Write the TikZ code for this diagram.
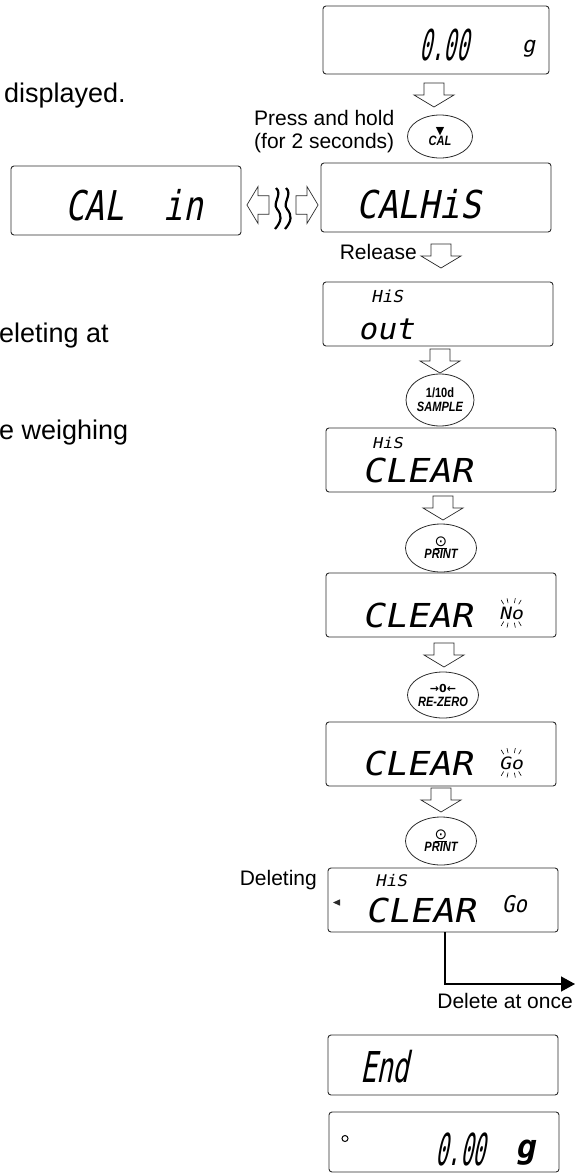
\documentclass[tikz,border=0pt]{standalone}
\usepackage{fontspec}
\setmainfont{Liberation Sans}
\newfontfamily\lcdfont[FakeSlant=0.2]{DejaVu Sans Mono}
\newfontfamily\keyfont[FakeStretch=0.82]{Liberation Sans}
\newfontfamily\symfont{DejaVu Sans}
\usetikzlibrary{arrows.meta,positioning,shapes.geometric}
\definecolor{linedark}{HTML}{2B2B2B}

\newcommand{\lcd}[2]{\lcdfont\fontsize{#1}{#1}\selectfont\addfontfeature{FakeStretch=#2}}
\newcommand{\hollowarrow}[1][]{\draw[hollow,#1] (0,-10) -- (12,-10) -- (12,-20) -- (24,0) -- (12,20) -- (12,10) -- (0,10) -- cycle;}

\begin{document}
\begin{tikzpicture}[
  x=1pt, y=1pt,
  display/.style={
    draw=linedark,
    line width=0.9pt,
    rounded corners=3pt,
    minimum width=230pt,
    minimum height=64pt,
    inner sep=0pt,
    outer sep=0pt
  },
  keybtn/.style={
    ellipse,
    draw=linedark,
    line width=0.8pt,
    minimum width=71pt,
    minimum height=48pt,
    inner sep=0pt,
    outer sep=0pt,
    align=center,
    font=\keyfont\bfseries\itshape\fontsize{13.5}{15}\selectfont
  },
  hollow/.style={draw=linedark, line width=0.7pt, fill=white},
  remark/.style={font=\fontsize{21}{23}\selectfont, inner sep=0pt},
  bodytext/.style={font=\fontsize{27}{30}\selectfont, inner sep=0pt},
  lcdtext/.style={inner sep=0pt, anchor=base west},
  arrow/.style={-{Triangle[length=14pt,width=15pt]}, line width=1.4pt}
]
\useasboundingbox (0,0) rectangle (587,-1175);

\node[bodytext, anchor=base west] (txtdisplayed) at (4,-102) {displayed.};
\node[bodytext, anchor=base west] (txtdeleting) at (-1,-342) {eleting at};
\node[bodytext, anchor=base west] (txtweighing) at (-1,-439) {e weighing};

\node[display, minimum width=226pt, minimum height=68pt] (disp0) at (436,-40) {};
\node[lcdtext, font=\lcd{42.5}{0.48}] (disp0num) at ([xshift=96,yshift=-20]disp0.west) {0.00};
\node[lcdtext, font=\lcd{22}{1}] (disp0unit) at ([xshift=199,yshift=-12]disp0.west) {g};

\node[keybtn, below=41pt of disp0, xshift=4pt, minimum width=65pt, minimum height=43pt] (keycal)
  {{\symfont\upshape\fontsize{11}{11}\selectfont ▼}\\[-4pt]CAL};
\node[remark, align=left, anchor=east] (presshold) at ([xshift=-13,yshift=4.5]keycal.west)
  {Press and hold\\(for 2 seconds)};

\node[display, minimum height=69pt, below=5pt of keycal, xshift=-4pt] (calhis) {};
\node[lcdtext, font=\lcd{38.4}{0.9}] (calhistxt) at ([xshift=35,yshift=-20.5]calhis.west) {CALHiS};

\node[display, minimum height=69pt, left=80pt of calhis, yshift=-3pt] (calin) {};
\node[lcdtext, font=\lcd{41}{0.8}] (calintxt) at ([xshift=54,yshift=-19.5]calin.west) {CAL~~in};

\hollowarrow[shift={(calin.east)}, xshift=28, yshift=-4.5, rotate=180, scale=0.92]
\hollowarrow[shift={(calin.east)}, xshift=55, yshift=-4.5, scale=0.92]
\foreach \wx in {36,46}
  \draw[line width=2.2pt] ([xshift=\wx-1, yshift=12.5]calin.east)
    .. controls +(7,-6) and +(-5,6) .. ([xshift=\wx, yshift=-8.5]calin.east)
    .. controls +(5,-6) and +(7,8) .. ([xshift=\wx-2, yshift=-28.5]calin.east);

\node[remark, anchor=base east] (release) at ([xshift=-19,yshift=-27]calhis.south) {Release};

\node[display, below=50pt of calhis, xshift=2pt] (dispout) {};
\node[lcdtext, font=\lcd{16.5}{1.07}] (outhis) at ([xshift=48,yshift=12]dispout.west) {HiS};
\node[lcdtext, font=\lcd{29.4}{1.05}] (outtxt) at ([xshift=35,yshift=-25]dispout.west) {out};

\node[keybtn, below=28pt of dispout, xshift=2pt, minimum width=68pt, minimum height=52pt] (keysample)
  {\upshape 1/10d\\[-1pt]SAMPLE};

\node[display, below=2pt of keysample, xshift=1pt] (dispclear) {};
\node[lcdtext, font=\lcd{15}{1.13}] (clearhis) at ([xshift=46,yshift=12]dispclear.west) {HiS};
\node[lcdtext, font=\lcd{33}{1.11}] (cleartxt) at ([xshift=36,yshift=-22]dispclear.west) {CLEAR};

\node[keybtn, below=32pt of dispclear] (keyprint)
  {\underline{\symfont\upshape\mdseries\fontsize{15}{15}\selectfont ⊙}\\[-3pt]PRINT};

\node[display, below=1pt of keyprint] (dispno) {};
\node[lcdtext, font=\lcd{33}{1.11}] (notxt) at ([xshift=36,yshift=-22]dispno.west) {CLEAR};
\node[lcdtext, font=\lcd{17}{1.17}] (noflash) at ([xshift=173,yshift=-14]dispno.west) {No};
\foreach \a in {60,78,102,120,240,258,282,300}
  \draw[line width=0.6pt] (noflash.center) ++(\a:15pt and 10pt) -- ++(\a:5pt);

\node[keybtn, below=35pt of dispno, xshift=2pt, minimum height=46pt] (keyzero)
  {{\symfont\upshape\fontsize{11}{11}\selectfont →0←}\\[-1pt]RE-ZERO};

\node[display, below=4pt of keyzero, xshift=-2pt] (dispgo) {};
\node[lcdtext, font=\lcd{33}{1.11}] (gotxt) at ([xshift=36,yshift=-21]dispgo.west) {CLEAR};
\node[lcdtext, font=\lcd{17}{1.17}] (goflash) at ([xshift=173,yshift=-15]dispgo.west) {Go};
\foreach \a in {60,78,102,120,240,258,282,300}
  \draw[line width=0.6pt] (goflash.center) ++(\a:15pt and 10pt) -- ++(\a:5pt);

\node[keybtn, below=31pt of dispgo] (keyprintb)
  {\underline{\symfont\upshape\mdseries\fontsize{15}{15}\selectfont ⊙}\\[-3pt]PRINT};

\node[display, below=3pt of keyprintb, xshift=2pt] (dispdel) {};
\fill[linedark] ([xshift=5,yshift=-2.5]dispdel.west) -- ++(7,3.2) -- ++(0,-6.4) -- cycle;
\node[lcdtext, font=\lcd{16}{1.1}] (delhis) at ([xshift=47,yshift=14]dispdel.west) {HiS};
\node[lcdtext, font=\lcd{33}{1.11}] (deltxt) at ([xshift=37,yshift=-22]dispdel.west) {CLEAR};
\node[lcdtext, font=\lcd{23}{0.9}] (delgo) at ([xshift=174,yshift=-12]dispdel.west) {Go};
\node[remark, anchor=base east] (deleting) at ([xshift=-11,yshift=-17]dispdel.north west) {Deleting};

\coordinate (delend) at ([xshift=132,yshift=-52]dispdel.south);
\node[remark, anchor=base east] (delonce) at ([xshift=-2,yshift=-24]delend) {Delete at once};

\node[display, minimum height=60pt, below=103pt of dispdel] (dispend) {};
\node[lcdtext, font=\lcd{42.5}{0.64}] (endtxt) at ([xshift=32,yshift=-17]dispend.west) {End};

\node[display, minimum height=60pt, below=17pt of dispend, xshift=1pt] (dispzero) {};
\draw[line width=1pt] ([xshift=16,yshift=3.5]dispzero.west) circle (3);
\node[lcdtext, font=\lcd{44}{0.47}] (zeronum) at ([xshift=106,yshift=-23]dispzero.west) {0.00};
\node[lcdtext, font=\lcd{33}{1}\bfseries] (zerounit) at ([xshift=186,yshift=-16]dispzero.west) {g};

\hollowarrow[shift={(disp0.south)}, xshift=-2, yshift=-9, rotate=-90]
\hollowarrow[shift={(calhis.south)}, xshift=5, yshift=-12, rotate=-90]
\hollowarrow[shift={(dispout.south)}, xshift=2, yshift=-3, rotate=-90]
\hollowarrow[shift={(dispclear.south)}, xshift=2, yshift=-4, rotate=-90]
\hollowarrow[shift={(dispno.south)}, xshift=3, yshift=-6, rotate=-90]
\hollowarrow[shift={(dispgo.south)}, xshift=0, yshift=-2, rotate=-90]
\draw[arrow] ([xshift=2]dispdel.south) |- (delend);

\end{tikzpicture}
\end{document}
